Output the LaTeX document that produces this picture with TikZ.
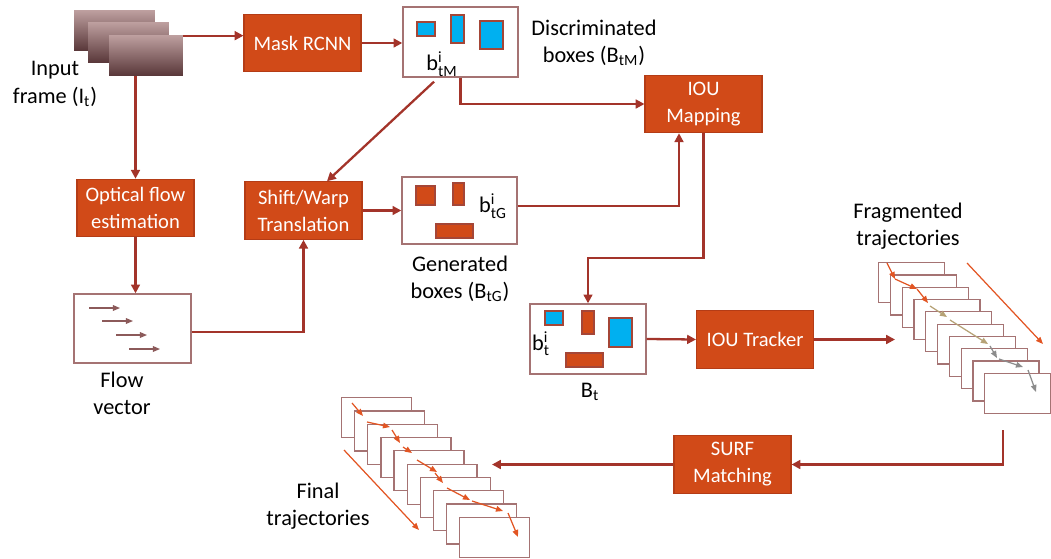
\documentclass[tikz,border=0pt]{standalone}
\usepackage{fontspec}
\setmainfont{Carlito}
\usepackage{amsmath}
\usetikzlibrary{arrows.meta,calc}

\definecolor{procfill}{RGB}{209,74,24}
\definecolor{procline}{RGB}{180,60,22}
\definecolor{link}{RGB}{163,52,42}
\definecolor{panel}{RGB}{165,115,115}
\definecolor{boxblue}{RGB}{0,176,240}
\definecolor{boxedge}{RGB}{165,70,55}
\definecolor{trkorange}{RGB}{226,85,35}
\definecolor{trktan}{RGB}{182,162,118}
\definecolor{trkgray}{RGB}{140,140,140}
\definecolor{flowarrow}{RGB}{140,90,90}
\definecolor{imgtop}{RGB}{190,160,160}
\definecolor{imgbot}{RGB}{88,54,56}

\begin{document}
\begin{tikzpicture}[x=0.02cm,y=-0.02cm,
  every node/.style={font=\fontsize{11.7pt}{15.3pt}\selectfont},
  proc/.style={draw=procline, fill=procfill, text=white, minimum width=2.34cm,
    minimum height=1.15cm, align=center, inner sep=0pt, line width=0.6pt},
  panelbox/.style={draw=panel, fill=white, line width=0.8pt, inner sep=0pt},
  imgframe/.style={inner sep=0pt, minimum width=1.62cm, minimum height=0.82cm,
    top color=imgtop, bottom color=imgbot},
  trkframe/.style={draw=panel, fill=white, line width=0.7pt, inner sep=0pt,
    minimum height=0.8cm, anchor=north west},
  bluebox/.style={draw=boxedge, fill=boxblue, line width=0.8pt},
  redbox/.style={draw=boxedge, fill=procfill, line width=0.6pt},
  conn/.style={draw=link, line width=1.3pt, -{Triangle[length=5pt,width=5pt]}},
  trk/.style={line width=0.7pt, -{Triangle[length=4pt,width=3.2pt]}},
  flowarr/.style={draw=flowarrow, line width=0.7pt, -{Triangle[length=4pt,width=3.2pt]}},
  label/.style={align=center, inner sep=0pt, font=\fontsize{12.7pt}{15.4pt}\selectfont}
]
\useasboundingbox (0,0) rectangle (1051,558);

% input frames (stacked images)
\node[imgframe] (in1) at (114.5,30.5) {};
\node[imgframe] (in2) at (128.5,42.5) {};
\node[imgframe, minimum width=1.48cm] (in3) at (146,55.5) {};
\node[label] (inlbl) at (55,84) {Input\\frame (I$_{\text{t}}$)};

% processing blocks
\node[proc] (mask) at (302.5,43) {Mask RCNN};
\node[proc] (iou) at (703.5,104) {IOU\\Mapping};
\node[proc] (opt) at (135.5,208) {Optical flow\\estimation};
\node[proc] (shift) at (303.5,210.5) {Shift/Warp\\Translation};
\node[proc] (tracker) at (755,339.5) {IOU Tracker};
\node[proc] (surf) at (732.5,464.5) {SURF\\Matching};

% discriminated boxes panel
\node[panelbox, minimum width=2.3cm, minimum height=1.4cm] (box1) at (460.5,42) {};
\draw[bluebox] (417,22) rectangle (435,36);
\draw[bluebox] (451,15) rectangle (464,43);
\draw[bluebox] (480,21) rectangle (503,49);
\node[label] (b1lbl) at (442,64) {b$^{\text{i}}_{\text{tM}}$};
\node[label] (disclbl) at (594,43) {Discriminated\\boxes (B$_{\text{tM}}$)};

% generated boxes panel
\node[panelbox, minimum width=2.3cm, minimum height=1.34cm] (box2) at (459.5,210.5) {};
\draw[redbox] (416,186) rectangle (435,205);
\draw[redbox] (453,183) rectangle (464,205);
\draw[redbox] (436,224) rectangle (473,238);
\node[label] (b2lbl) at (493,206) {b$^{\text{i}}_{\text{tG}}$};
\node[label] (genlbl) at (460,279) {Generated\\boxes (B$_{\text{tG}}$)};

% flow vector panel
\node[panelbox, minimum width=2.34cm, minimum height=1.38cm] (flow) at (132.5,328.5) {};
\draw[flowarr] (89,308) -- (120,308);
\draw[flowarr] (102,321) -- (133,321);
\draw[flowarr] (116,335) -- (147,335);
\draw[flowarr] (129,349) -- (160,349);
\node[label] (flowlbl) at (122,393) {Flow\\vector};

% merged boxes panel
\node[panelbox, minimum width=2.32cm, minimum height=1.4cm] (box3) at (588,339) {};
\draw[bluebox] (545,311) rectangle (563,325);
\draw[redbox] (582,311) rectangle (594,334);
\draw[bluebox] (609,318) rectangle (632,347);
\draw[redbox] (566,353) rectangle (603,367);
\node[label] (b3lbl) at (541,344) {b$^{\text{i}}_{\text{t}}$};
\node[label] (btlbl) at (590,392) {B$_{\text{t}}$};

% fragmented trajectories
\foreach \i in {0,...,9}{
  \node[trkframe, minimum width=1.32cm] (frag\i) at ({878+11.8*\i},{262+12.3*\i}) {};
}
\draw[trk, draw=trkorange] (887,263) -- (895,279);
\draw[trk, draw=trkorange] (895,279) -- (917,289);
\draw[trk, draw=trkorange] (917,289) -- (928,303);
\draw[trk, draw=trktan] (930,306) -- (947,317);
\draw[trk, draw=trktan] (950,320) -- (988,344);
\draw[trk, draw=trkgray] (990,346) -- (997,358);
\draw[trk, draw=trkgray] (999,359) -- (1023,367);
\draw[trk, draw=trkgray] (1028,370) -- (1036,392);
\draw[trk, draw=trkorange] (967,263) -- (1043,344);
\node[label] (fraglbl) at (908,226) {Fragmented\\trajectories};

% final trajectories
\foreach \i in {0,...,9}{
  \node[trkframe, minimum width=1.4cm] (fin\i) at ({341+13.1*\i},{397+13.3*\i}) {};
}
\draw[trk, draw=trkorange] (352,403) -- (363,416);
\draw[trk, draw=trkorange] (367,422) -- (390,427);
\draw[trk, draw=trkorange] (392,430) -- (400,443);
\draw[trk, draw=trkorange] (403,447) -- (412,453);
\draw[trk, draw=trkorange] (417,460) -- (437,472);
\draw[trk, draw=trkorange] (435,473) -- (443,483);
\draw[trk, draw=trkorange] (447,488) -- (470,500);
\draw[trk, draw=trkorange] (472,501) -- (503,511);
\draw[trk, draw=trkorange] (508,513) -- (518,537);
\draw[trk, draw=trkorange] (344,450) -- (419,530);
\node[label] (finlbl) at (318,506) {Final\\trajectories};

% connector end points
\coordinate (bend) at (588,258);
\coordinate (fragin) at (895,339.5);
\coordinate (fragout) at (1003,430);
\coordinate (finin) at (492,464.5);

% connectors
\draw[conn] (in3.north east) ++(0,-0.02cm) coordinate (inout) -- (inout -| mask.west);
\draw[conn] (mask.east) -- (mask.east -| box1.west);
\draw[conn] (box1.south) |- (iou.west);
\draw[conn] ([xshift=-0.53cm,yshift=-0.08cm]box1.south) -- ([xshift=0.47cm]shift.north);
\draw[conn] (shift.east) -- (shift.east -| box2.west);
\draw[conn] ([yshift=0.09cm]box2.east) -| ([xshift=-0.49cm]iou.south);
\draw[conn] (iou.south) |- (bend) -- (box3.north);
\draw[conn] (box3.east) -- (tracker.west);
\draw[conn] (tracker.east) -- (fragin);
\draw[conn] (fragout) |- (surf.east);
\draw[conn] (surf.west) -- (finin);
\draw[conn] (in3.south -| opt.north) -- (opt.north);
\draw[conn] (opt.south) -- (opt.south |- flow.north);
\draw[conn] ([yshift=-0.07cm]flow.east) -| (shift.south);
\end{tikzpicture}
\end{document}
